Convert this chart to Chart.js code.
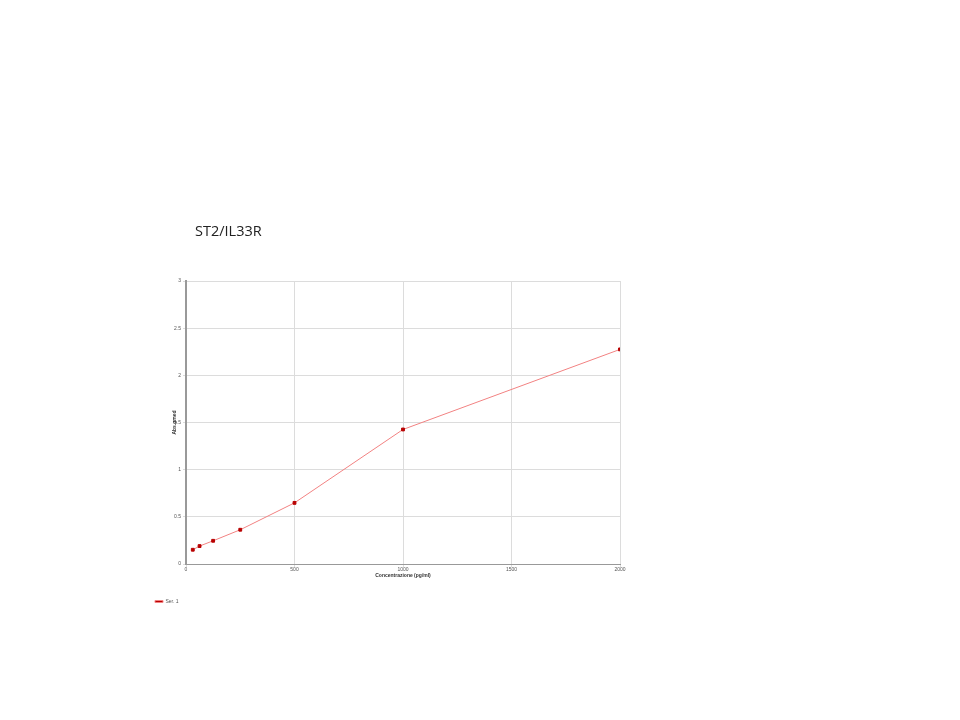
<!DOCTYPE html>
<html>
<head>
<meta charset="utf-8">
<script src="https://cdn.jsdelivr.net/npm/chart.js@4"></script>
<style>
  html, body { margin: 0; padding: 0; background: #fff; }
  #wrap { position: relative; width: 960px; height: 720px; }
  #titolo {
    position: absolute; left: 195px; top: 221px;
    font-family: "Open Sans", sans-serif; font-size: 14.5px; color: #222;
  }
</style>
</head>
<body>
<div id="wrap">
  <div id="titolo">ST2/IL33R</div>
  <canvas id="grafico" width="960" height="720"></canvas>
</div>
<script>
// dati della curva standard
const concentrazioni = [31.25, 62.5, 125, 250, 500, 1000, 2000];
const assorbanze = [0.151, 0.19, 0.246, 0.363, 0.648, 1.426, 2.275];
const nomeSerie = "Ser. 1";
const titoloX = "Concentrazione (pg/ml)";
const titoloY = "Abs.gmed";

const ctx = document.getElementById("grafico").getContext("2d");

const punti = concentrazioni.map((c, i) => ({ x: c, y: assorbanze[i] }));

const fontPiccolo = { family: "Liberation Sans", size: 5 };

new Chart(ctx, {
    type: "line",
    data: {
        datasets: [
            {
                label: nomeSerie,
                data: punti,
                borderColor: "rgba(242, 130, 130, 1)",
                backgroundColor: "#b80000",
                pointBackgroundColor: "#b80000",
                pointBorderColor: "#b80000",
                pointStyle: "rect",
                pointRadius: 2,
                borderWidth: 1,
                tension: 0,
            },
        ],
    },
    options: {
        responsive: false,
        animation: false,
        layout: {
            padding: { left: 151, right: 340, top: 281, bottom: 106 },
        },
        plugins: {
            title: { display: false },
            tooltip: { enabled: false },
            legend: {
                position: "bottom",
                align: "start",
                labels: {
                    font: fontPiccolo,
                    color: "#555",
                    boxWidth: 8,
                    boxHeight: 2,
                    padding: 4,
                },
            },
        },
        scales: {
            x: {
                type: "linear",
                min: 0,
                max: 2000,
                ticks: {
                    stepSize: 500, font: fontPiccolo, color: "#555", padding: 0,
                    callback: (v) => String(v),
                },
                grid: { color: "#dcdcdc", tickLength: 3 },
                border: { color: "#999", width: 1 },
                title: {
                    display: true, text: titoloX, font: { ...fontPiccolo, weight: "bold" },
                    color: "#333", padding: { top: 0, bottom: 16 },
                },
                afterFit: (scala) => { scala.height = 31; },
            },
            y: {
                min: 0,
                max: 3,
                ticks: {
                    stepSize: 0.5, font: fontPiccolo, color: "#555", padding: 2,
                    callback: (v) => String(v),
                },
                grid: { color: "#dcdcdc", tickLength: 3 },
                border: { color: "#999", width: 2 },
                title: {
                    display: true, text: titoloY, font: { ...fontPiccolo, weight: "bold" },
                    color: "#333", padding: { top: 21, bottom: 0 },
                },
                afterFit: (scala) => { scala.width = 35; },
            },
        },
    },
});
</script>
</body>
</html>
